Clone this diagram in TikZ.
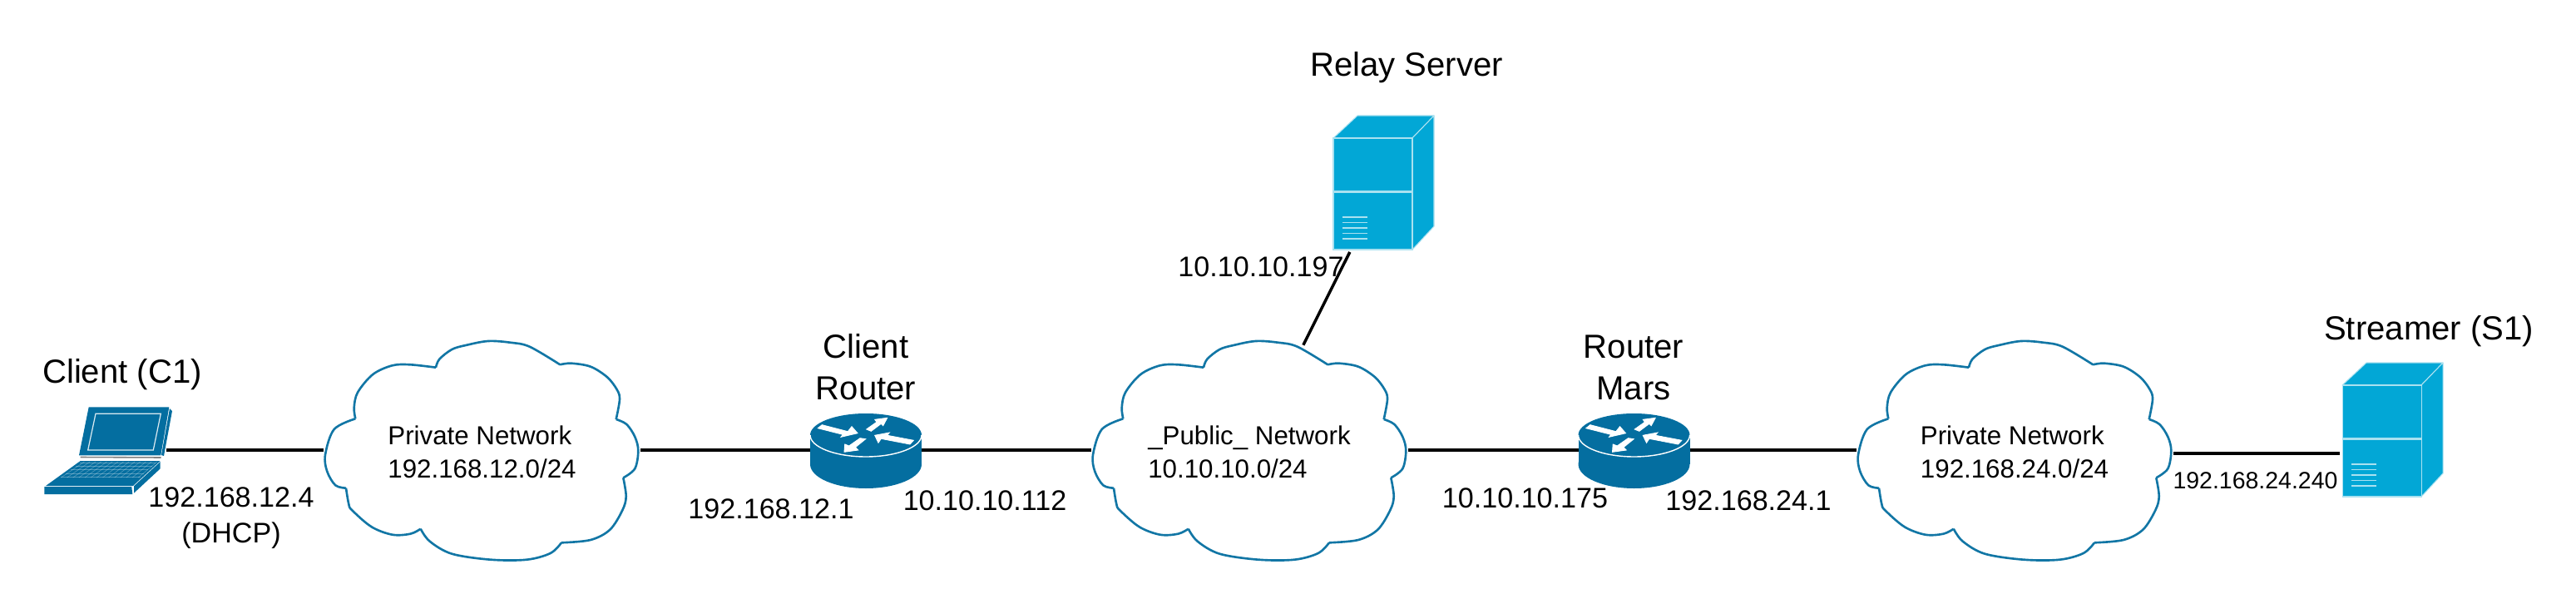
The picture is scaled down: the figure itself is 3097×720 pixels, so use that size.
\documentclass[tikz,border=0pt]{standalone}
\usepackage{fontspec}
\usepackage{xcolor}
\setmainfont{Liberation Sans}
\usetikzlibrary{shapes.geometric}
\definecolor{routerblue}{RGB}{4, 110, 160}
\definecolor{serverblue}{RGB}{2, 167, 214}
\definecolor{serveredge}{RGB}{170, 225, 240}
\definecolor{cloudline}{RGB}{18, 118, 165}
\definecolor{hingegray}{RGB}{130, 130, 130}
\tikzset{
  netlabel/.style={anchor=base, inner sep=0pt, font=\fontsize{22.8}{28.3}\selectfont, align=center},
  iplabel/.style={anchor=base, inner sep=0pt, font=\fontsize{19.4}{24.4}\selectfont, align=center},
  smallip/.style={anchor=base, inner sep=0pt, font=\fontsize{16.2}{20}\selectfont},
  nettext/.style={anchor=base, inner sep=0pt, align=left, font=\fontsize{17.8}{22.7}\selectfont},
  netbox/.style={ellipse, minimum width=75.4mm, minimum height=52.8mm, inner sep=0pt, outer sep=1.2pt},
  iconbox/.style={rectangle, inner sep=0pt, outer sep=0pt},
  serverbox/.style={iconbox, minimum width=24.2mm, minimum height=32.2mm, outer sep=1.7pt},
  routerbox/.style={iconbox, minimum width=26.8mm, minimum height=18mm},
  laptopbox/.style={iconbox, minimum width=29.4mm, minimum height=20.8mm},
  wire/.style={draw=black, line width=2pt},
  pics/netcloud/.style={code={
    \draw[cloudline, line width=1.5pt, line join=round]
      plot[smooth, tension=0.55] coordinates {(-152.2,-37.7) (-153.8,-51) (-149.5,-69.3) (-131.2,-91) (-107.8,-101.7) (-86.2,-102.7) (-55.5,-99.3)}
      plot[smooth, tension=0.55] coordinates {(-55.5,-99.3) (-51.2,-109.3) (-36.2,-121) (-19.5,-126) (7.2,-131) (33.8,-129.3) (57.2,-124.3) (93.8,-102.7)}
      plot[smooth, tension=0.55] coordinates {(93.8,-102.7) (107.2,-104.3) (130.5,-100.3) (150.5,-87.7) (162.2,-72.7) (165.5,-61) (161.2,-37)}
      plot[smooth, tension=0.55] coordinates {(161.2,-37) (173.8,-31) (183.8,-16) (187.8,0.7) (183.8,22.3) (169.8,33.3)}
      plot[smooth, tension=0.55] coordinates {(169.8,33.3) (173.2,55.7) (168.8,72.3) (153.8,95.7) (130.5,108) (95.5,111.3)}
      plot[smooth, tension=0.55] coordinates {(95.5,111.3) (82.2,124) (53.8,131.7) (10.5,131.7) (-36.2,124.7) (-62.8,109.7) (-73.8,94.7)}
      plot[smooth, tension=0.55] coordinates {(-73.8,94.7) (-86.2,100.7) (-107.8,101.7) (-132.8,92.3) (-156.2,72.3) (-160.2,65) (-163.5,45.7)}
      plot[smooth, tension=0.55] coordinates {(-163.5,45.7) (-176.2,42.3) (-186.2,25.7) (-188.5,5.7) (-177.8,-25) (-152.2,-37.7)};
  }},
  pics/routericon/.style={code={
    \fill[routerblue] (-67,-18) rectangle (67,17);
    \fill[routerblue] (0,17) ellipse [x radius=67, y radius=29];
    \fill[routerblue] (0,-18) ellipse [x radius=67, y radius=26];
    \draw[white, line width=0.8pt] (-67,-18) .. controls (-67,-3.7) and (-37,8) .. (0,8) .. controls (37,8) and (67,-3.7) .. (67,-18);
    % the four arrows on the lid
    \filldraw[white, line width=0.5pt] (-52.7,-30.3) -- (-21.7,-22.3) -- (-17,-28.3) -- (-10,-20.3) -- (-30,-15.7) -- (-27.7,-18.7) -- (-57.7,-26.3) -- cycle;
    \filldraw[white, line width=0.5pt] (0.7,-25) -- (13,-33.7) -- (10.7,-36.7) -- (25.7,-38.7) -- (20.7,-29.3) -- (18.3,-31.7) -- (6.3,-22.7) -- cycle;
    \filldraw[white, line width=0.5pt] (57.3,-11.7) -- (25.7,-17.7) -- (28.3,-21) -- (10.7,-17.7) -- (15,-8.7) -- (18.3,-13.7) -- (53,-7) -- cycle;
    \filldraw[white, line width=0.5pt] (-0.3,-13.3) -- (-12.7,-3.3) -- (-9.3,0) -- (-26,2.3) -- (-25.3,-7) -- (-20.3,-5) -- (-7,-14.3) -- cycle;
  }},
  pics/servericon/.style={code={
    \filldraw[fill=serverblue, draw=serveredge, line width=0.6pt, line join=round]
      (-60.5,-53.5) -- (-31.5,-80.5) -- (60.5,-80.5) -- (34.5,-53.5) -- cycle;
    \filldraw[fill=serverblue, draw=serveredge, line width=0.6pt, line join=round]
      (34.5,-53.5) -- (60.5,-80.5) -- (60.5,52.5) -- (34.5,80.5) -- cycle;
    \filldraw[fill=serverblue, draw=serveredge, line width=0.6pt]
      (-60.5,-53.5) rectangle (34.5,80.5);
    \draw[serveredge, line width=1.5pt] (-60.5,11) -- (34.5,11);
    % vents
    \foreach \v in {41.5,48,54.5,61,67.5} {
      \draw[serveredge, line width=0.6pt] (-49.5,\v) -- (-19.5,\v);
    }
  }},
  pics/laptopicon/.style={code={
    \fill[routerblue] (-19.8,-51.7) -- (76.8,-51.7) -- (66.8,6.3) -- (-31.5,6.3) -- cycle;
    \fill[routerblue] (77.5,-50) -- (80.5,-47) -- (70.5,7) -- (67.5,6) -- cycle;
    \draw[white, opacity=0.85, line width=0.7pt] (-11.5,-43.7) -- (66.8,-43.7) -- (57.8,0) -- (-20.8,0) -- cycle;
    \draw[hingegray, line width=0.9pt] (-29.8,8.5) -- (67,9);
    \fill[routerblue] (-29.8,13) -- (66.2,13) -- (33.5,43) -- (-71.5,43) -- cycle;
    \fill[routerblue] (-73.2,44) -- (31.8,44) -- (32.8,53) -- (-73.2,53) -- cycle;
    \fill[routerblue] (34.5,43.3) -- (66.2,14) -- (66.2,22.3) -- (34.5,51.7) -- cycle;
    % keys
    \foreach \t in {0.08,0.22,0.36,0.5,0.64} {
      \draw[white, opacity=0.3, line width=0.35pt]
        ({-29.8-41.7*\t+3},{13+30*\t}) -- ({66.2-32.7*\t-3},{13+30*\t});
    }
    \foreach \s in {0.05,0.12,...,0.96} {
      \draw[white, opacity=0.3, line width=0.35pt]
        ({-29.8+96*\s},14) -- ({-29.8+96*\s+(-41.7+8.9*\s)*0.68},33);
    }
  }}
}
\begin{document}
\begin{tikzpicture}[x=0.2mm, y=-0.2mm]
  \useasboundingbox (0,0) rectangle (3097,720);

  % clouds
  \node[netbox] (cloudA) at (579.5,541) {};
  \node[netbox] (cloudB) at (1502.5,541) {};
  \node[netbox] (cloudC) at (2422.5,541) {};
  \foreach \c in {cloudA,cloudB,cloudC} {
    \pic at (\c.center) {netcloud};
  }
  \node[nettext] (cloudAtext) at (579.5,574) {Private Network\\192.168.12.0/24};
  \node[nettext] (cloudBtext) at (1502,574) {\_Public\_ Network\\10.10.10.0/24};
  \node[nettext] (cloudCtext) at (2422,574) {Private Network\\192.168.24.0/24};

  % devices
  \node[laptopbox] (client) at (126.5,541) {};
  \node[routerbox] (routerA) at (1041,541) {};
  \node[routerbox] (routerB) at (1964.5,541) {};
  \node[serverbox] (relay) at (1663.5,219.5) {};
  \node[serverbox] (streamer) at (2876.5,516.5) {};

  % links
  \draw[wire] (client.east) -- (cloudA.west);
  \draw[wire] (cloudA.east) -- (routerA.west);
  \draw[wire] (routerA.east) -- (cloudB.west);
  \draw[wire] (cloudB.east) -- (routerB.west);
  \draw[wire] (routerB.east) -- (cloudC.west);
  \draw[wire] (relay.244) -- (cloudB.63);
  \draw[wire] (streamer.204 -| cloudC.east) -- (streamer.204);

  \pic at (client.center) {laptopicon};
  \pic at (routerA.center) {routericon};
  \pic at (routerB.center) {routericon};
  \pic at (relay.center) {servericon};
  \pic at (streamer.center) {servericon};

  % names
  \node[netlabel] (clientname) at (147,460) {Client (C1)};
  \node[netlabel] (routerAname) at (1041,480) {Client\\Router};
  \node[netlabel] (routerBname) at (1964,480) {Router\\Mars};
  \node[netlabel] (relayname) at (1691,92) {Relay Server};
  \node[netlabel] (streamername) at (2920,408) {Streamer (S1)};

  % addresses
  \node[iplabel] (clientip) at (278,652) {192.168.12.4\\(DHCP)};
  \node[iplabel] (routerAleft) at (927,623) {192.168.12.1};
  \node[iplabel] (routerAright) at (1184,613) {10.10.10.112};
  \node[iplabel] (routerBleft) at (1833.5,610) {10.10.10.175};
  \node[iplabel] (routerBright) at (2102,613) {192.168.24.1};
  \node[iplabel] (relayip) at (1516,332) {10.10.10.197};
  \node[smallip] (streamerip) at (2711.5,587) {192.168.24.240};
\end{tikzpicture}
\end{document}
